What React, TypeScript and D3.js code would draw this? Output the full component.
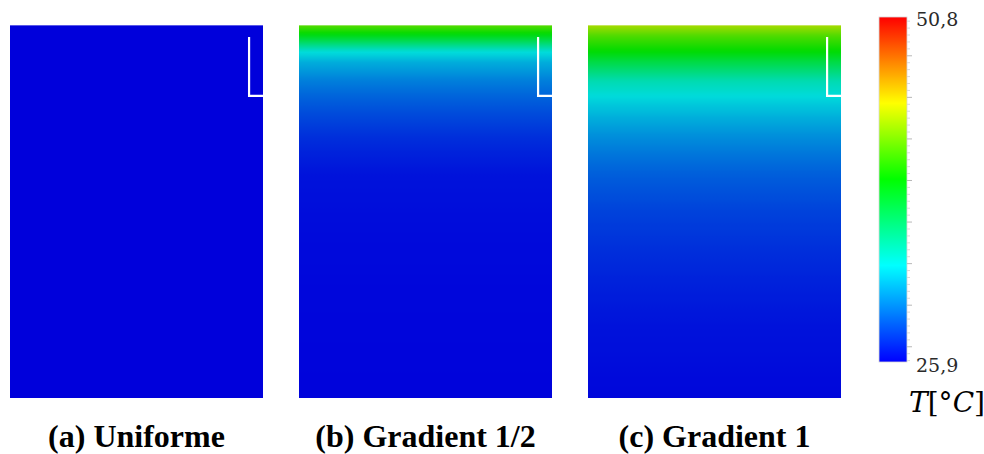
import React from "react";
import * as d3 from "d3";

// ---- data ----
const tempMin = 25.9;
const tempMax = 50.8;
const panelNames = ["(a) Uniforme", "(b) Gradient 1/2", "(c) Gradient 1"];

// normalized depth (0 = top, 1 = bottom) and temperature [°C]
const depthA = [0, 1];
const tempA = [25.9, 25.9];

const depthB = [0, 0.02, 0.04, 0.07, 0.1, 0.15, 0.2, 0.25, 0.3, 0.35, 0.4, 0.5, 0.7, 1.0];
const tempB = [41.3, 39.4, 37.1, 33.1, 31.4, 29.9, 28.9, 28.1, 27.4, 26.9, 26.5, 26.3, 26.1, 26.0];

const depthC = [0, 0.03, 0.07, 0.1, 0.15, 0.2, 0.25, 0.3, 0.35, 0.4, 0.5, 0.6, 0.7, 0.8, 0.9, 1.0];
const tempC = [43.3, 41.0, 39.1, 37.1, 34.1, 32.6, 31.4, 30.4, 29.6, 28.9, 28.0, 27.4, 26.9, 26.5, 26.3, 26.1];

// colormap: fractional positions and colours
const cmapPos = [0, 0.28, 0.53, 0.75, 1];
const cmapColors = ["#0000ff", "#00ffff", "#00ff00", "#ffff00", "#ff0000"];

// well/notch geometry (fractions of panel)
const notchX = 0.945;
const notchTop = 0.032;
const notchBottom = 0.19;

const W = 984;
const H = 454;

export default function App() {
  const profiles = [
    { depth: depthA, temp: tempA },
    { depth: depthB, temp: tempB },
    { depth: depthC, temp: tempC },
  ];

  const xBand = d3
    .scaleBand<string>()
    .domain(panelNames)
    .range([10, 841])
    .paddingInner(0.1246)
    .paddingOuter(0);
  const pw = xBand.bandwidth();
  const y = d3.scaleLinear().domain([0, 1]).range([25, 398]);

  const cmap = d3
    .scaleLinear<string>()
    .domain(cmapPos.map((p) => tempMin + p * (tempMax - tempMin)))
    .range(cmapColors)
    .interpolate(d3.interpolateRgb)
    .clamp(true);

  const shade = 0.86;
  const shaded = (T: number) => {
    const c = d3.rgb(cmap(T));
    return d3.rgb(c.r * shade, c.g * shade, c.b * shade).formatHex();
  };

  const cbY = d3.scaleLinear().domain([tempMin, tempMax]).range([362, 17]);
  const cbX0 = 879;
  const cbX1 = 907;
  const minorTicks = d3.range(26, 50.75, 0.5);

  const nSamp = 150;

  return (
    <svg
      width={W}
      height={H}
      style={{ position: "absolute", left: 0, top: 0, background: "#fff" }}
    >
      <defs>
        {profiles.map((p, i) => {
          const interp = d3.scaleLinear().domain(p.depth).range(p.temp).clamp(true);
          return (
            <linearGradient key={i} id={`pg${i}`} x1="0" y1="0" x2="0" y2="1">
              {d3.range(nSamp + 1).map((k) => {
                const d = k / nSamp;
                return <stop key={k} offset={d} stopColor={shaded(interp(d))} />;
              })}
            </linearGradient>
          );
        })}
        <linearGradient id="cbg" x1="0" y1="1" x2="0" y2="0">
          {d3.range(101).map((k) => {
            const f = k / 100;
            return (
              <stop key={k} offset={f} stopColor={cmap(tempMin + f * (tempMax - tempMin))} />
            );
          })}
        </linearGradient>
      </defs>

      {panelNames.map((name, i) => {
        const x0 = xBand(name)!;
        const x1 = x0 + pw;
        const nx = x0 + notchX * pw;
        return (
          <g key={name}>
            <rect x={x0} y={y(0)} width={pw} height={y(1) - y(0)} fill={`url(#pg${i})`} />
            <line x1={x0} x2={x1} y1={y(0) + 0.5} y2={y(0) + 0.5} stroke="#fff" strokeOpacity={0.35} />
            <path
              d={`M${nx},${y(notchTop)} L${nx},${y(notchBottom)} L${x1},${y(notchBottom)}`}
              fill="none"
              stroke="#fff"
              strokeWidth={2.2}
            />
            <text
              x={x0 + pw / 2}
              y={447}
              textAnchor="middle"
              fontFamily="'Liberation Serif', 'Times New Roman', serif"
              fontWeight="bold"
              fontSize={32}
              fill="#000"
            >
              {name}
            </text>
          </g>
        );
      })}

      {/* colorbar */}
      <rect
        x={cbX0}
        y={cbY(tempMax)}
        width={cbX1 - cbX0}
        height={cbY(tempMin) - cbY(tempMax)}
        fill="url(#cbg)"
        stroke="#d8d8d8"
        strokeWidth={0.8}
      />
      {minorTicks.map((v) => {
        const major = Math.abs(v % 3) < 1e-6;
        return (
          <line
            key={v}
            x1={cbX1}
            x2={cbX1 + (major ? 5 : 3)}
            y1={cbY(v)}
            y2={cbY(v)}
            stroke={major ? "#b8b8b8" : "#d8d8d8"}
            strokeWidth={1}
          />
        );
      })}
      <text x={916} y={26} fontFamily="'DejaVu Serif', serif" fontSize={19} fill="#2a2a2a">
        50,8
      </text>
      <text x={916} y={372} fontFamily="'DejaVu Serif', serif" fontSize={19} fill="#2a2a2a">
        25,9
      </text>
      <text x={909} y={412} fontFamily="'DejaVu Serif', serif" fontSize={28} fill="#000">
        <tspan fontStyle="italic">T</tspan>
        <tspan>[°</tspan>
        <tspan fontStyle="italic">C</tspan>
        <tspan>]</tspan>
      </text>
    </svg>
  );
}
